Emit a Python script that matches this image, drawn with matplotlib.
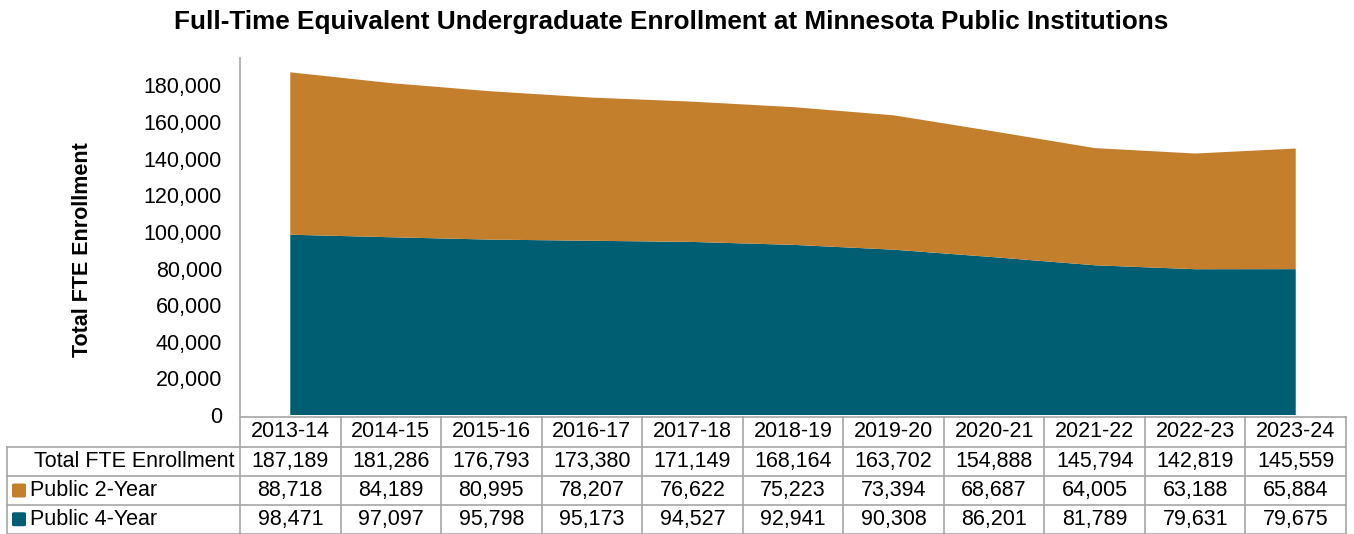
import matplotlib
matplotlib.use("Agg")
import matplotlib.pyplot as plt
from matplotlib.patches import FancyBboxPatch

plt.rcParams['font.family'] = ['Liberation Sans', 'DejaVu Sans']

years = ["2013-14", "2014-15", "2015-16", "2016-17", "2017-18", "2018-19",
         "2019-20", "2020-21", "2021-22", "2022-23", "2023-24"]
total = [187189, 181286, 176793, 173380, 171149, 168164, 163702, 154888, 145794, 142819, 145559]
public_2yr = [88718, 84189, 80995, 78207, 76622, 75223, 73394, 68687, 64005, 63188, 65884]
public_4yr = [98471, 97097, 95798, 95173, 94527, 92941, 90308, 86201, 81789, 79631, 79675]
yticks = [0, 20000, 40000, 60000, 80000, 100000, 120000, 140000, 160000, 180000]

c2 = "#C47F2C"
c4 = "#005E73"
grid = "#A6A6A6"
FS = 15.5

W, H = 1354, 534
fig = plt.figure(figsize=(W / 100, H / 100), dpi=100)

ax_left, ax_right, ax_top, ax_bot = 240, 1346, 58, 415
ax = fig.add_axes([ax_left / W, 1 - ax_bot / H, (ax_right - ax_left) / W, (ax_bot - ax_top) / H])

x = list(range(len(years)))
ax.stackplot(x, public_4yr, public_2yr, colors=[c4, c2], linewidth=0)
ax.set_xlim(-0.5, len(years) - 0.5)
ax.set_ylim(0, 195000)
ax.set_yticks(yticks)
ax.set_yticklabels([f"{v:,}" for v in yticks], fontsize=FS)
ax.tick_params(axis='y', length=0, pad=13)
ax.set_xticks([])
for s in ['top', 'right', 'bottom']:
    ax.spines[s].set_visible(False)
ax.spines['left'].set_color(grid)
ax.spines['left'].set_linewidth(1.2)

ax.set_ylabel("Total FTE Enrollment", fontsize=FS, fontweight='bold')
ax.yaxis.set_label_coords((93 - ax_left) / (ax_right - ax_left), (ax_bot - 250) / (ax_bot - ax_top))

fig.text(671 / W, 1 - 22 / H, "Full-Time Equivalent Undergraduate Enrollment at Minnesota Public Institutions",
         ha='center', va='center', fontsize=18.8, fontweight='bold')

# Table
row_edges = [417, 446.5, 476, 505, 533.5]
left_edge = 7
col_w = (ax_right - ax_left) / len(years)
col_edges = [ax_left + i * col_w for i in range(len(years) + 1)]

def fx(px):
    return px / W

def fy(py):
    return 1 - py / H

lw = 1.2
fig.add_artist(plt.Line2D([fx(ax_left), fx(ax_right)], [fy(row_edges[0])] * 2, color=grid, lw=lw))
for ry in row_edges[1:]:
    fig.add_artist(plt.Line2D([fx(left_edge), fx(ax_right)], [fy(ry)] * 2, color=grid, lw=lw))
fig.add_artist(plt.Line2D([fx(left_edge)] * 2, [fy(row_edges[1]), fy(row_edges[-1])], color=grid, lw=lw))
for cx in col_edges:
    fig.add_artist(plt.Line2D([fx(cx)] * 2, [fy(row_edges[0]), fy(row_edges[-1])], color=grid, lw=lw))

rows = [years, [f"{v:,}" for v in total], [f"{v:,}" for v in public_2yr], [f"{v:,}" for v in public_4yr]]
for r, vals in enumerate(rows):
    cy = (row_edges[r] + row_edges[r + 1]) / 2
    for i, v in enumerate(vals):
        cx = (col_edges[i] + col_edges[i + 1]) / 2
        fig.text(fx(cx), fy(cy), v, ha='center', va='center', fontsize=FS)

cy = (row_edges[1] + row_edges[2]) / 2
fig.text(fx(235), fy(cy), "Total FTE Enrollment", ha='right', va='center', fontsize=FS)
for r, (lab, col) in enumerate([("Public 2-Year", c2), ("Public 4-Year", c4)]):
    cy = (row_edges[r + 2] + row_edges[r + 3]) / 2
    sq = 14
    fig.add_artist(FancyBboxPatch((fx(12), fy(cy + sq / 2)), sq / W, sq / H,
                                  boxstyle="round,pad=0,rounding_size=0.002",
                                  facecolor=col, edgecolor='none', transform=fig.transFigure))
    fig.text(fx(30), fy(cy), lab, ha='left', va='center', fontsize=FS)

fig.savefig("out.png", dpi=100)
